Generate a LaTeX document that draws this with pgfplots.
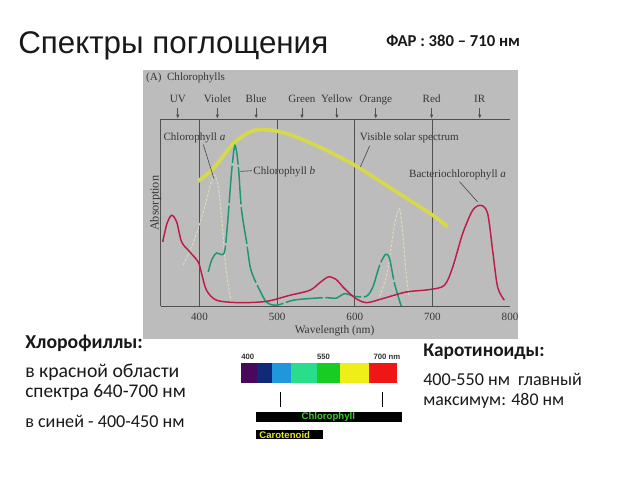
\documentclass[border=0pt]{standalone}
\usepackage{pgfplots}
\pgfplotsset{compat=1.18}
\usepackage{fontspec}
\setmainfont{Carlito}
\newfontfamily\arialf{Liberation Sans}
\newfontfamily\chartf{Liberation Serif}
\usetikzlibrary{arrows.meta}
\definecolor{chartbg}{RGB}{188,188,188}
\definecolor{crimson}{RGB}{190,28,72}
\definecolor{tealc}{RGB}{28,150,112}
\definecolor{solar}{RGB}{214,216,78}
\definecolor{palec}{RGB}{220,218,184}
\definecolor{ctext}{RGB}{55,55,55}
\definecolor{gridc}{RGB}{80,80,80}
\definecolor{slidetext}{RGB}{25,25,25}
\definecolor{sp1}{RGB}{72,8,92}
\definecolor{sp2}{RGB}{14,42,120}
\definecolor{sp3}{RGB}{32,150,220}
\definecolor{sp4}{RGB}{40,222,140}
\definecolor{sp5}{RGB}{24,204,36}
\definecolor{sp6}{RGB}{240,238,24}
\definecolor{sp7}{RGB}{238,22,22}
\begin{document}
\begin{tikzpicture}[x=0.75pt,y=-0.75pt]
\fill[white] (0,0) rectangle (640,480);
\fill[chartbg] (143,70) rectangle (518,338.5);
% slide texts
\node[anchor=base west,inner sep=0,text=slidetext,font=\arialf\fontsize{23.5}{28}\selectfont] at (18,53.3) {Спектры поглощения};
\node[anchor=base west,inner sep=0,text=slidetext,font=\bfseries\fontsize{12.5}{15}\selectfont] at (386,46.7) {ФАР : 380 – 710 нм};
\node[anchor=base west,inner sep=0,text=slidetext,font=\bfseries\fontsize{14.8}{17}\selectfont] at (25,348.3) {Хлорофиллы:};
\node[anchor=base west,inner sep=0,text=slidetext,font=\fontsize{14.8}{17}\selectfont] at (25,377.3) {в красной области};
\node[anchor=base west,inner sep=0,text=slidetext,font=\fontsize{14.5}{17}\selectfont] at (25,397.3) {спектра 640-700 нм};
\node[anchor=base west,inner sep=0,text=slidetext,font=\fontsize{13.6}{16}\selectfont] at (25,427.3) {в синей - 400-450 нм};
\node[anchor=base west,inner sep=0,text=slidetext,font=\bfseries\fontsize{14.5}{17}\selectfont] at (423,356) {Каротиноиды:};
\node[anchor=base west,inner sep=0,text=slidetext,font=\fontsize{13.6}{16}\selectfont] at (423,385) {400-550 нм\ \ главный};
\node[anchor=base west,inner sep=0,text=slidetext,font=\fontsize{13.4}{16}\selectfont] at (423,405) {максимум: 480 нм};

% main chart
\begin{axis}[
  at={(120.525pt,-229.5pt)}, anchor=south west,
  width=262pt, height=140pt, scale only axis,
  xmin=350, xmax=800, ymin=0, ymax=100,
  axis x line=bottom, axis y line=left,
  axis line style={-, draw=gridc, line width=0.6pt},
  xtick={400,500,600,700,800}, ytick=\empty,
  major tick length=0pt,
  /pgf/number format/assume math mode=true,
  /pgf/number format/1000 sep={},
  xticklabel style={font=\chartf\fontsize{8.3}{9}\selectfont, text=ctext, yshift=-2pt},
  clip=false,
  smooth, tension=0.5,
]
\draw[gridc, line width=0.6pt] (axis cs:350,100) -- (axis cs:800,100);
\draw[gridc, line width=0.6pt] (axis cs:400,0) -- (axis cs:400,100);
\draw[gridc, line width=0.6pt] (axis cs:500,0) -- (axis cs:500,100);
\draw[gridc, line width=0.6pt] (axis cs:600,0) -- (axis cs:600,100);
\draw[gridc, line width=0.6pt] (axis cs:700,0) -- (axis cs:700,100);
% solar spectrum
\addplot[solar, line width=2.8pt, no marks] coordinates {
(398,66.8) (417.7,73.6) (443.4,87) (464.9,93.2) (477.7,94.5) (499,93.8)
(524.9,90.5) (559,84.3) (600,75.4) (645,63.5) (700.5,48.6) (719.8,42.3)};
% chlorophyll a (pale)
\addplot[palec, line width=0.8pt, dash pattern=on 2pt off 1.2pt, no marks] coordinates {
(379,22) (390,32) (398,41) (408,55) (414,65) (419,70) (424,64) (429,45) (434,20) (440,4)};
\addplot[palec, line width=0.8pt, dash pattern=on 2pt off 1.2pt, no marks] coordinates {
(632,5) (640,15) (645,26) (651,43) (657.6,52) (662,38) (666,18) (669.5,6)};
% chlorophyll b (teal)
\addplot[tealc, line width=1.1pt, dash pattern=on 28pt off 2pt, no marks] coordinates {
(411.2,18.2) (416,25) (422,28.4) (428.4,27.5) (432.7,30) (437,48.6) (441.3,71.8)
(445.6,86) (449.9,75.4) (454,52) (460.6,34.3) (464.8,22) (469,16) (477.7,8.4) (486.3,2.1)
(499,0.4) (520.5,3.1) (542,4) (563.4,4.5) (576,4.2) (587,6.6) (599.8,5.2) (614.9,5.2)
(623.3,10.2) (632,21.8) (639.7,27.7) (644.8,25.4) (651.2,12) (659.8,0)};
% bacteriochlorophyll a (crimson)
\addplot[crimson, line width=1.1pt, no marks] coordinates {
(352.6,34.3) (358,44) (364.1,48.6) (370.6,45) (377,34.3) (387.7,28.9) (398.3,23.6)
(402.7,17.4) (409.1,8.4) (422,3.1) (451,1.8) (486.3,2.5) (516,5.7) (542,8.4)
(555,12.5) (566,15.6) (576,14.2) (584.8,10.2) (599.8,4.5) (614.9,1.8) (636.2,4)
(666.3,7.5) (696.2,8.8) (715.5,11.1) (726.2,20.9) (739,38.8) (751.9,51.3)
(762.7,53.9) (771.2,49.5) (777.6,29.8) (784,10.2) (792.7,3.1)};
% band labels and arrows
\foreach \w/\n in {372/UV,423/Violet,473/Blue,532/Green,577/Yellow,627/Orange,699/Red,761/IR}{
  \edef\tmp{\noexpand\draw[gridc, line width=0.7pt, -{Latex[length=3pt,width=2.6pt]}] (axis cs:\w,106) -- (axis cs:\w,100.4);
  \noexpand\node[anchor=base, inner sep=0, text=ctext, font=\noexpand\chartf\noexpand\fontsize{8.3}{9}\noexpand\selectfont] at (axis cs:\w,108.9) {\n};}
  \tmp
}
\node[anchor=base west, inner sep=0, text=ctext, font=\chartf\fontsize{8.3}{9}\selectfont] at (axis cs:331,120.9) {(A)\ \ Chlorophylls};
\node[anchor=base, inner sep=0, text=ctext, font=\chartf\fontsize{8.6}{9}\selectfont] at (axis cs:574,-14.7) {Wavelength (nm)};
\node[rotate=90, inner sep=0, text=ctext, font=\chartf\fontsize{9.2}{10}\selectfont] at (axis cs:343.5,55) {Absorption};
% annotations
\node[anchor=base west, inner sep=0, text=ctext, font=\chartf\fontsize{8.3}{9}\selectfont] at (axis cs:353.3,88.5) {Chlorophyll \textit{a}};
\draw[gridc, line width=0.5pt] (axis cs:404.9,86.5) -- (axis cs:418.6,68.2);
\node[anchor=base west, inner sep=0, text=ctext, font=\chartf\fontsize{8.3}{9}\selectfont] at (axis cs:469.1,70.3) {Chlorophyll \textit{b}};
\draw[gridc, line width=0.5pt] (axis cs:452,72.1) -- (axis cs:467.5,72.5);
\node[anchor=base west, inner sep=0, text=ctext, font=\chartf\fontsize{8.3}{9}\selectfont] at (axis cs:606.3,88.5) {Visible solar spectrum};
\draw[gridc, line width=0.5pt] (axis cs:619.2,85.8) -- (axis cs:607.2,74.5);
\node[anchor=base west, inner sep=0, text=ctext, font=\chartf\fontsize{8.3}{9}\selectfont] at (axis cs:669.7,68.8) {Bacteriochlorophyll \textit{a}};
\draw[gridc, line width=0.5pt] (axis cs:734.9,66.6) -- (axis cs:758.4,55.7);
\end{axis}

% spectrum inset
\begin{axis}[
  at={(178.5pt,-335.25pt)}, anchor=south west,
  width=129pt, height=76.5pt, scale only axis,
  xmin=0, xmax=172, ymin=0, ymax=102,
  hide axis, clip=false,
]
\addplot[fill=sp1, draw=none] coordinates {(2.7,63.7) (18.9,63.7) (18.9,84.3) (2.7,84.3)} -- cycle;
\addplot[fill=sp2, draw=none] coordinates {(18.7,63.7) (34.5,63.7) (34.5,84.3) (18.7,84.3)} -- cycle;
\addplot[fill=sp3, draw=none] coordinates {(34.3,63.7) (52.7,63.7) (52.7,84.3) (34.3,84.3)} -- cycle;
\addplot[fill=sp4, draw=none] coordinates {(53.2,63.7) (78.7,63.7) (78.7,84.3) (53.2,84.3)} -- cycle;
\addplot[fill=sp5, draw=none] coordinates {(78.7,63.7) (102,63.7) (102,84.3) (78.7,84.3)} -- cycle;
\addplot[fill=sp6, draw=none] coordinates {(102,63.7) (131.3,63.7) (131.3,84.3) (102,84.3)} -- cycle;
\addplot[fill=sp7, draw=none] coordinates {(131.3,63.7) (158.7,63.7) (158.7,84.3) (131.3,84.3)} -- cycle;
\addplot[black, line width=1.1pt, no marks] coordinates {(42.7,40.3) (42.7,55.3)};
\addplot[black, line width=1.1pt, no marks] coordinates {(144.3,40.3) (144.3,55.3)};
\addplot[fill=black, draw=none] coordinates {(18,25.3) (163.7,25.3) (163.7,35.3) (18,35.3)} -- cycle;
\addplot[fill=black, draw=none] coordinates {(18,7.7) (84.7,7.7) (84.7,17) (18,17)} -- cycle;
\node[anchor=base west, inner sep=0, text=black!80, font=\arialf\bfseries\fontsize{5.8}{6}\selectfont] at (axis cs:3,88) {400};
\node[anchor=base, inner sep=0, text=black!80, font=\arialf\bfseries\fontsize{5.8}{6}\selectfont] at (axis cs:85.5,88) {550};
\node[anchor=base west, inner sep=0, text=black!80, font=\arialf\bfseries\fontsize{5.8}{6}\selectfont] at (axis cs:135.3,88) {700 nm};
\node[inner sep=0, text={rgb,255:red,60;green,205;blue,40}, font=\arialf\bfseries\fontsize{7.2}{8}\selectfont] at (axis cs:90.3,30.3) {Chlorophyll};
\node[inner sep=0, text={rgb,255:red,232;green,230;blue,40}, font=\arialf\bfseries\fontsize{7.2}{8}\selectfont] at (axis cs:46.7,12.3) {Carotenoid};
\end{axis}
\end{tikzpicture}
\end{document}
